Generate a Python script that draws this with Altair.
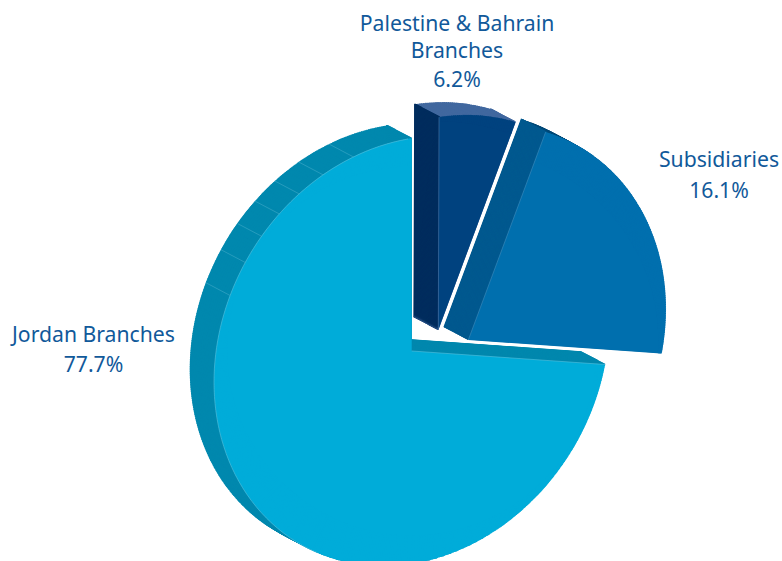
import numpy as np
import pandas as pd
import altair as alt

# Shares of each branch group, in percent, clockwise from twelve o'clock
categories = ["Palestine & Bahrain Branches", "Subsidiaries", "Jordan Branches"]
shares = [6.2, 16.1, 77.7]

# Colours per slice: top face, rounded rim, cut wall
face_colors = ["#00427f", "#006fae", "#00acd9"]
rim_colors = ["#41689f", "#004a78", "#0088ae"]
wall_colors = ["#002d5e", "#00598f", "#0088ae"]
LABEL_COLOR = "#11599a"

# Where each exploded slice has its tip on the canvas
tips = [(438.3, 330.0), (468.3, 340.0), (411.7, 351.0)]

# The tilted view: the pie is an ellipse, its thickness a shift up and to the left
AXIS_LONG, AXIS_SHORT, AXIS_TILT = 223.0, 188.5, 210.0
DEPTH = (-24.3, -12.8)
cumulative = np.concatenate([[0.0], np.cumsum(shares)])
view_angles = np.array([0.2, 20.4, 94.0, 360.0])


def angle_of(share):
    return np.interp(share, cumulative, view_angles)


def rim_radius(angle):
    phi = np.radians(angle - AXIS_TILT)
    return (AXIS_LONG * AXIS_SHORT
            / np.hypot(AXIS_SHORT * np.cos(phi), AXIS_LONG * np.sin(phi)))


def rim_point(tip, share, depth=0.0):
    angle = angle_of(share)
    radius = rim_radius(angle)
    return (tip[0] + DEPTH[0] * depth + radius * np.sin(np.radians(angle)),
            tip[1] + DEPTH[1] * depth - radius * np.cos(np.radians(angle)))


def sector_rows(tip, start, end, color, depth, degrees):
    """One slice at a given depth: a solid core plus an outer band of short wedges."""
    steps = max(2, int((angle_of(end) - angle_of(start)) / degrees))
    cuts = np.linspace(start, end, steps + 1)
    width = cuts[1] - cuts[0]
    cx = tip[0] + DEPTH[0] * depth
    cy = tip[1] + DEPTH[1] * depth
    core = min(rim_radius(angle_of((a + b) / 2)) for a, b in zip(cuts[:-1], cuts[1:])) - 1
    rows = [{"cx": cx, "cy": cy, "a": start, "b": end, "r": core, "r0": 0.0,
             "fill": color, "sw": 0.0}]
    for a, b in zip(cuts[:-1], cuts[1:]):
        # Each wedge reaches back under its neighbour so no hairline shows between them
        rows.append({"cx": cx, "cy": cy, "a": max(start, a - width * 0.6), "b": b,
                     "r": rim_radius(angle_of((a + b) / 2)), "r0": core - 3,
                     "fill": color, "sw": 0.0})
    return rows


def edge_rows(tip, start, end, color, depth):
    """A sliver along a slice edge, stroked so that it keeps its width down to the tip."""
    return [{"cx": tip[0] + DEPTH[0] * depth, "cy": tip[1] + DEPTH[1] * depth,
             "a": start, "b": end, "r": rim_radius(angle_of((start + end) / 2)), "r0": 0.0,
             "fill": color, "sw": 1.2}]


rows = []
for i in range(3):
    start, end = cumulative[i], cumulative[i + 1]
    # Rim: stacked copies of the slice, the rearmost one drawn finest as it forms the outline
    for depth in np.arange(1.0, 0.0, -0.08):
        rows += sector_rows(tips[i], start, end, rim_colors[i], depth,
                            0.5 if depth == 1.0 else 2.0)
    # Cut walls: a sliver of the slice edge swept through the thickness
    for depth in np.arange(1.0, 0.0, -0.02):
        rows += edge_rows(tips[i], start, start + 0.06, wall_colors[i], depth)
        if i != 1:
            rows += edge_rows(tips[i], end - 0.06, end, rim_colors[i], depth)
for i in range(3):
    rows += sector_rows(tips[i], cumulative[i], cumulative[i + 1], face_colors[i], 0.0, 0.5)
sectors = pd.DataFrame(rows).round(3)

# Pale seams on the rim of the large slice, one per facet of the solid
facet_angles = [343.3, 333.3, 324.4, 316.0, 307.4, 298.0, 287.0]
facet_shares = np.interp(facet_angles, view_angles, cumulative)
seams = []
for share in facet_shares:
    x1, y1 = rim_point(tips[2], share)
    x2, y2 = rim_point(tips[2], share, 1.0)
    seams.append({"x": x1, "y": y1, "x2": x2, "y2": y2, "c": "#3fa9c8", "w": 0.6})
# Pale highlights along the front edges of the slices
for i, tone in zip(range(3), ["#4d79ab", "#3f8fc0", "#58bfdc"]):
    x2, y2 = rim_point(tips[i], cumulative[i])
    seams.append({"x": tips[i][0], "y": tips[i][1], "x2": x2, "y2": y2, "c": tone, "w": 0.6})
seams = pd.DataFrame(seams).round(2)

# Highlight on the visible part of the large slice's outline
outline_shares = np.interp(np.arange(205.0, 360.5, 2.0), view_angles, cumulative)
outline = pd.DataFrame(
    [dict(zip(("x", "y"), rim_point(tips[2], s)), k=k) for k, s in enumerate(outline_shares)]
).round(2)

label_lines = ["Palestine & Bahrain", "Branches", "6.2%",
               "Subsidiaries", "16.1%",
               "Jordan Branches", "77.7%"]
labels = pd.DataFrame({
    "text": label_lines,
    "x": [457, 457, 457, 719, 719, 93.5, 93.5],
    "y": [30.5, 57.5, 87, 167, 198, 342, 372],
})

theta_scale = alt.Scale(domain=list(cumulative), range=list(np.radians(view_angles)))

arcs = alt.Chart(sectors).mark_arc().encode(
    x=alt.X("cx:Q", scale=None),
    y=alt.Y("cy:Q", scale=None),
    theta=alt.Theta("a:Q", scale=theta_scale),
    theta2="b:Q",
    radius=alt.Radius("r:Q", scale=None),
    radius2="r0:Q",
    fill=alt.Fill("fill:N", scale=None),
    stroke=alt.Stroke("fill:N", scale=None),
    strokeWidth=alt.StrokeWidth("sw:Q", scale=None),
)

seam_rules = alt.Chart(seams).mark_rule().encode(
    x=alt.X("x:Q", scale=None),
    y=alt.Y("y:Q", scale=None),
    x2="x2:Q",
    y2="y2:Q",
    color=alt.Color("c:N", scale=None),
    strokeWidth=alt.StrokeWidth("w:Q", scale=None),
)

outline_line = alt.Chart(outline).mark_line(color="#58bfdc", strokeWidth=0.6).encode(
    x=alt.X("x:Q", scale=None),
    y=alt.Y("y:Q", scale=None),
    order="k:Q",
)

text = alt.Chart(labels).mark_text(
    font="Noto Sans", fontSize=21.2, align="center", baseline="alphabetic", color=LABEL_COLOR
).encode(
    x=alt.X("x:Q", scale=None),
    y=alt.Y("y:Q", scale=None),
    text="text:N",
)

chart = alt.layer(arcs, seam_rules, outline_line, text).properties(
    width=782,
    height=561,
    padding=0,
    autosize=alt.AutoSizeParams(type="none"),
    background="white",
).configure_view(stroke=None)

chart.save("out.html", embed_options={"renderer": "svg", "actions": False})
